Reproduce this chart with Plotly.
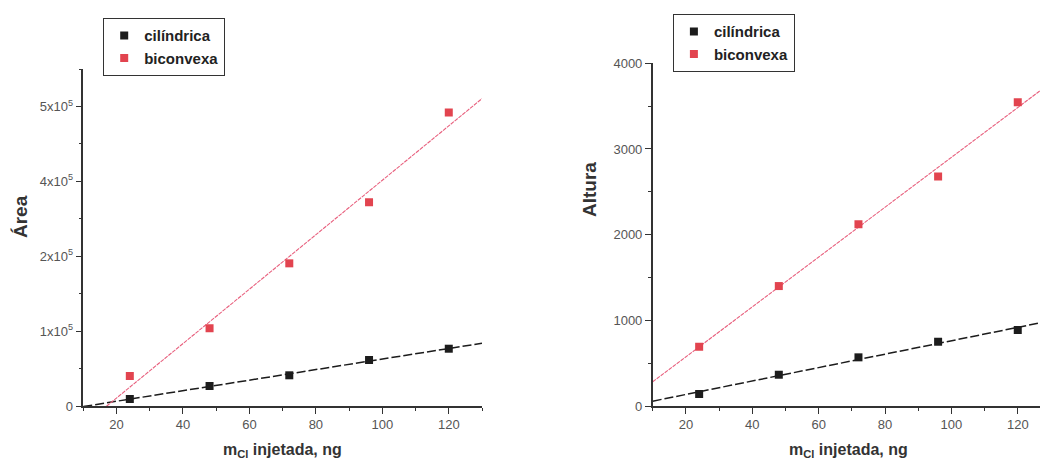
import numpy as np
import plotly.graph_objects as go

# ---------------- data ----------------
mass_ng = [24, 48, 72, 96, 120]

area_cilindrica = [9300, 26700, 41000, 61400, 76500]
area_biconvexa = [40000, 103700, 190500, 272000, 392000]

altura_cilindrica = [140, 365, 568, 750, 887]
altura_biconvexa = [692, 1400, 2120, 2680, 3544]

area_tickvals = [0, 100000, 200000, 300000, 400000]
area_ticktext = ["0", "1x10<sup>5</sup>", "2x10<sup>5</sup>", "4x10<sup>5</sup>", "5x10<sup>5</sup>"]
altura_tickvals = [0, 1000, 2000, 3000, 4000]
altura_ticktext = ["0", "1000", "2000", "3000", "4000"]

series_names = ["cilíndrica", "biconvexa"]

# ---------------- styles ----------------
BLACK = "#1c1c1c"
RED = "#e2444f"
RED_LINE = "#e8607e"
W, H = 1040, 462


def fit(x, y, xr):
    b, a = np.polyfit(np.asarray(x, float), np.asarray(y, float), 1)
    xs = np.array(xr, float)
    return xs, a + b * xs


fig = go.Figure()

# left panel (Área)
for ys, name, col, lcol, dash, lw in [
    (area_cilindrica, series_names[0], BLACK, BLACK, "9px,3px", 1.5),
    (area_biconvexa, series_names[1], RED, RED_LINE, "4px,1px", 1.1),
]:
    fx, fy = fit(mass_ng, ys, [10, 130])
    fig.add_trace(go.Scatter(x=fx, y=fy, mode="lines", line=dict(color=lcol, width=lw, dash=dash),
                             showlegend=False, xaxis="x", yaxis="y", hoverinfo="skip"))
    fig.add_trace(go.Scatter(x=mass_ng, y=ys, mode="markers", name=name,
                             marker=dict(symbol="square", size=8, color=col),
                             xaxis="x", yaxis="y", legend="legend"))

# right panel (Altura)
for ys, name, col, lcol, dash, lw in [
    (altura_cilindrica, series_names[0], BLACK, BLACK, "9px,3px", 1.5),
    (altura_biconvexa, series_names[1], RED, RED_LINE, "4px,1px", 1.1),
]:
    fx, fy = fit(mass_ng, ys, [10, 130])
    fig.add_trace(go.Scatter(x=fx, y=fy, mode="lines", line=dict(color=lcol, width=lw, dash=dash),
                             showlegend=False, xaxis="x2", yaxis="y2", hoverinfo="skip"))
    fig.add_trace(go.Scatter(x=mass_ng, y=ys, mode="markers", name=name,
                             marker=dict(symbol="square", size=8, color=col),
                             xaxis="x2", yaxis="y2", legend="legend2"))

tickfont = dict(family="Liberation Sans Narrow, Liberation Sans, Arial", size=13, color="#555")
axis_common = dict(showline=True, linecolor="#333", linewidth=1.5, showgrid=False, zeroline=False,
                   ticks="outside", ticklen=6, tickwidth=1.2, tickcolor="#333", tickfont=tickfont,
                   automargin=False)

xaxis_common = dict(axis_common, tick0=0, dtick=20,
                    minor=dict(ticks="outside", ticklen=3, tickcolor="#333", dtick=10, tick0=0))

legend_font = dict(family="Liberation Sans, Arial", size=15, color="#222", weight="bold")

fig.update_layout(
    width=W, height=H,
    margin=dict(l=0, r=0, t=0, b=0, autoexpand=False),
    paper_bgcolor="white", plot_bgcolor="white",
    xaxis=dict(xaxis_common, domain=[83.3 / W, 482 / W], range=[10, 130], anchor="y"),
    yaxis=dict(axis_common, domain=[1 - 406 / H, 1 - 69 / H], range=[0, 450000], anchor="x",
               tickmode="array", tickvals=area_tickvals, ticktext=area_ticktext,
               minor=dict(ticks="outside", ticklen=3, tickcolor="#333", dtick=50000, tick0=0)),
    xaxis2=dict(xaxis_common, domain=[652.7 / W, 1.0], range=[10, 126.7], anchor="y2"),
    yaxis2=dict(axis_common, domain=[1 - 406 / H, 1 - 63.3 / H], range=[0, 4000], anchor="x2",
                tickmode="array", tickvals=altura_tickvals, ticktext=altura_ticktext,
                minor=dict(ticks="outside", ticklen=3, tickcolor="#333", dtick=500, tick0=0)),
    legend=dict(x=103 / W, y=1 - 18 / H, xanchor="left", yanchor="top",
                bordercolor="#333", borderwidth=1.2, bgcolor="white",
                font=legend_font, itemwidth=30, tracegroupgap=0),
    legend2=dict(x=672.7 / W, y=1 - 14 / H, xanchor="left", yanchor="top",
                 bordercolor="#333", borderwidth=1.2, bgcolor="white",
                 font=legend_font, itemwidth=30, tracegroupgap=0),
    showlegend=True,
)

xtitle_font = dict(family="Liberation Sans, Arial", size=16, color="#333")
ytitle_font = dict(family="Liberation Sans, Arial", size=19, color="#333")
for xc in (282, 848):
    fig.add_annotation(x=xc / W, y=1 - 450 / H, xref="paper", yref="paper", showarrow=False,
                       xanchor="center", yanchor="middle",
                       text="<b>m<sub>Cl</sub> injetada, ng</b>", font=xtitle_font)
fig.add_annotation(x=20 / W, y=1 - 217 / H, xref="paper", yref="paper", showarrow=False,
                   xanchor="center", yanchor="middle",
                   text="<b>Área</b>", textangle=-90, font=ytitle_font)
fig.add_annotation(x=590 / W, y=1 - 190 / H, xref="paper", yref="paper", showarrow=False,
                   xanchor="center", yanchor="middle",
                   text="<b>Altura</b>", textangle=-90, font=ytitle_font)

fig.write_html("out.html", config={"displayModeBar": False},
               post_script="document.body.style.margin='0';document.body.style.overflow='hidden';")
